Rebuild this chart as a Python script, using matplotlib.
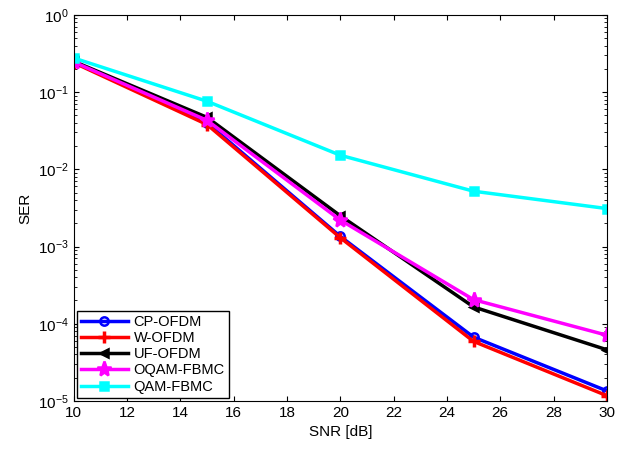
import matplotlib
matplotlib.use("Agg")
import matplotlib.pyplot as plt

plt.rcParams["font.family"] = ["Liberation Sans", "DejaVu Sans"]

snr = [10, 15, 20, 25, 30]
cp_ofdm = [0.245, 0.040, 0.00135, 6.7e-5, 1.35e-5]
w_ofdm = [0.240, 0.038, 0.00130, 5.9e-5, 1.17e-5]
uf_ofdm = [0.250, 0.047, 0.0025, 1.65e-4, 4.6e-5]
oqam_fbmc = [0.245, 0.043, 0.0022, 2.05e-4, 7.1e-5]
qam_fbmc = [0.276, 0.076, 0.0152, 0.0052, 0.0031]

series = [
    ("CP-OFDM", cp_ofdm, "#0000ff", "o", 6),
    ("W-OFDM", w_ofdm, "#ff0000", "+", 8),
    ("UF-OFDM", uf_ofdm, "#000000", "<", 6),
    ("OQAM-FBMC", oqam_fbmc, "#ff00ff", "*", 11),
    ("QAM-FBMC", qam_fbmc, "#00ffff", "s", 6),
]

fig = plt.figure(figsize=(6.25, 4.5), dpi=100)
ax = fig.add_axes([0.118, 0.109, 0.853, 0.858])
for name, vals, col, mk, ms in series:
    mfc = "none" if mk == "o" else col
    ax.semilogy(snr, vals, color=col, lw=2.5, marker=mk, ms=ms,
                mfc=mfc, mec=col, mew=2.5 if mk == "+" else 1.8, label=name)

ax.set_xlim(10, 30)
ax.set_ylim(1e-5, 1)
ax.set_xticks(range(10, 31, 2))
ax.set_xlabel("SNR [dB]", fontsize=11)
ax.set_ylabel("SER", fontsize=11)
ax.tick_params(which="both", direction="in", top=True, right=True, labelsize=11)
ax.legend(loc="lower left", fontsize=10.5, handlelength=3.2, borderaxespad=0.2,
          fancybox=False, edgecolor="k", framealpha=1, labelspacing=0.15,
          borderpad=0.3, handletextpad=0.4)
fig.savefig("out.png", dpi=100)
